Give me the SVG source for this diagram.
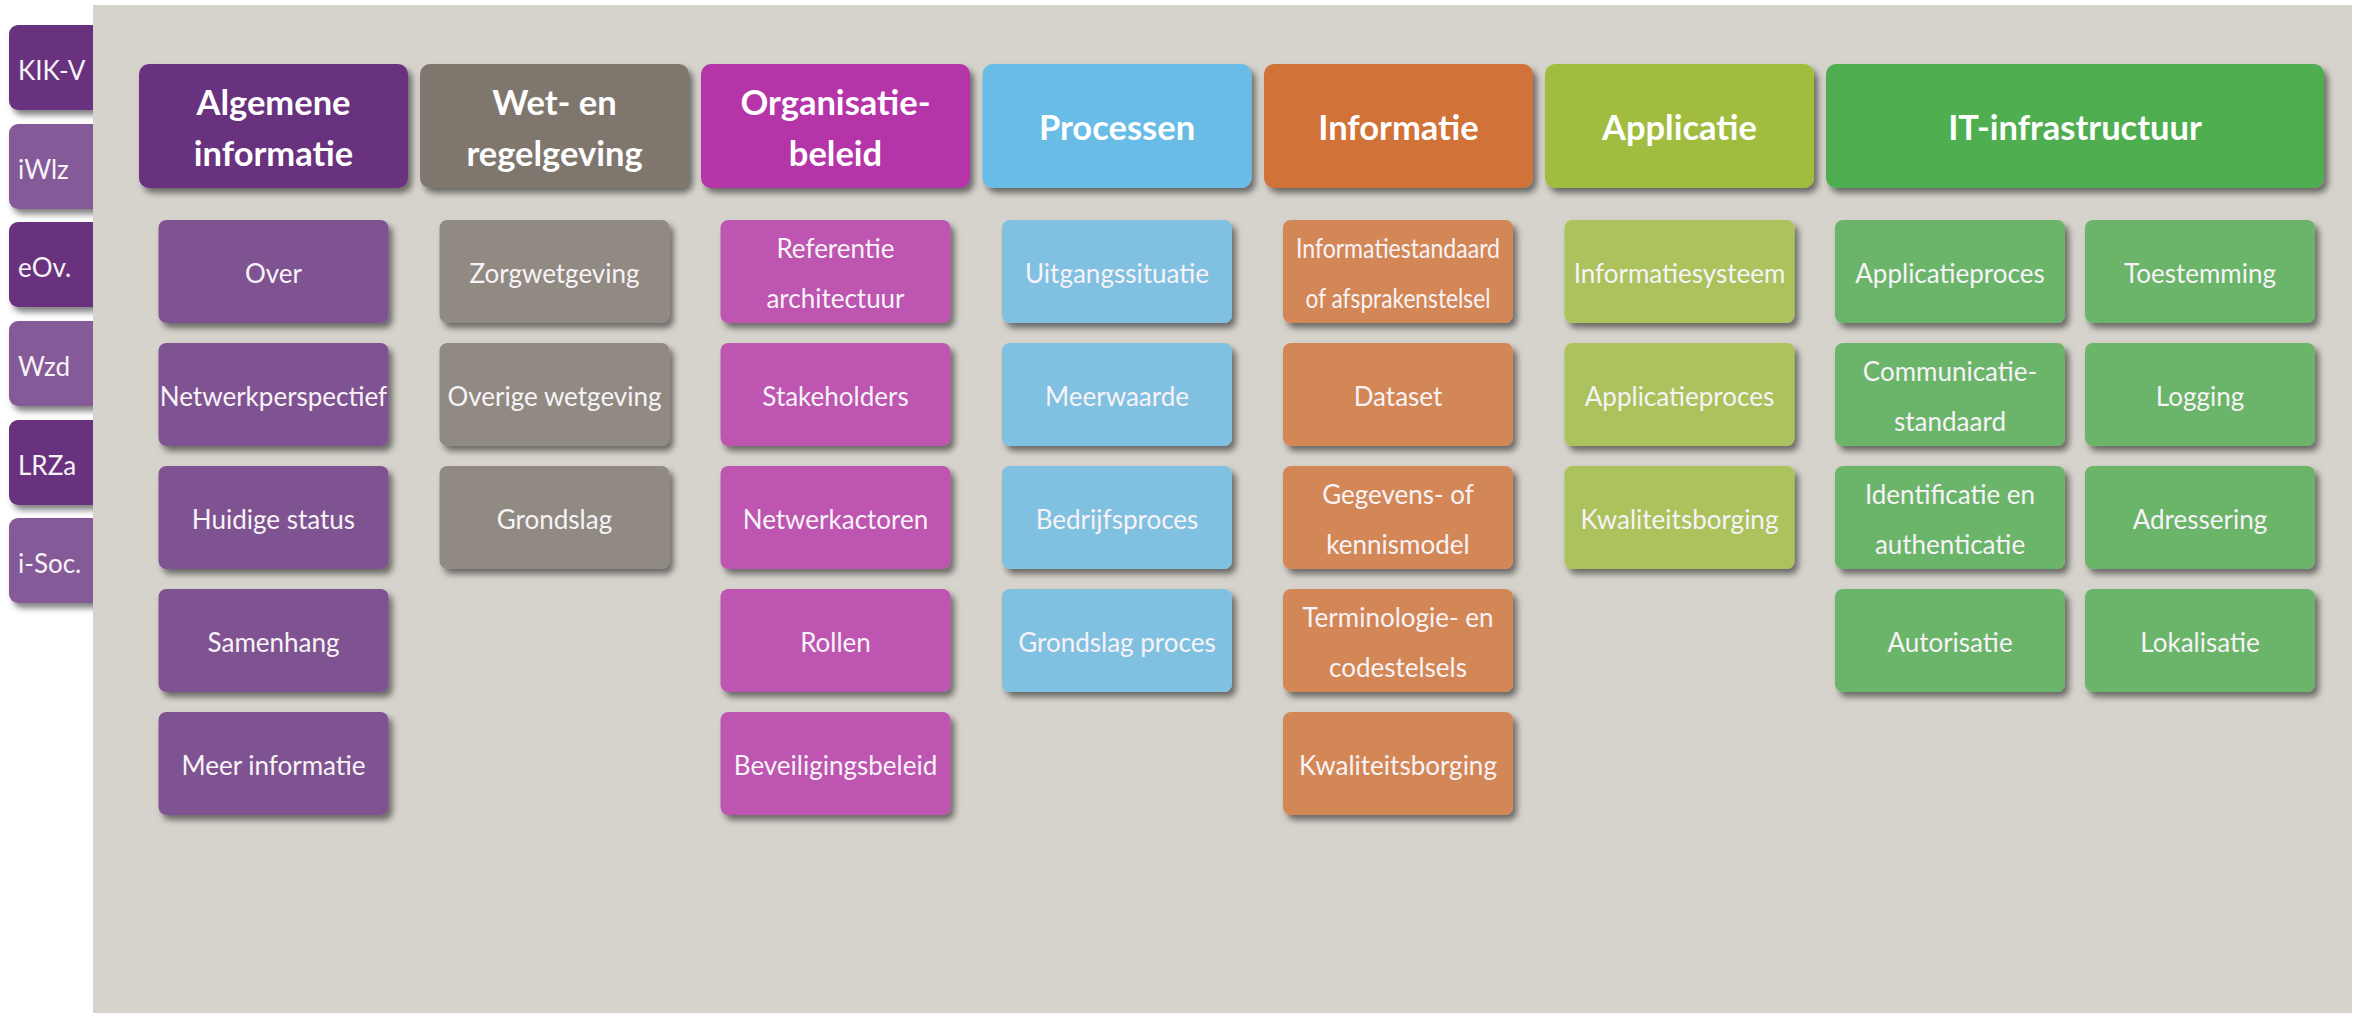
<svg xmlns="http://www.w3.org/2000/svg" width="2359" height="1013" viewBox="0 0 2359 1013">
<defs>
<filter id="sh" x="-10%" y="-10%" width="125%" height="130%">
<feDropShadow dx="4" dy="5" stdDeviation="3" flood-color="#000" flood-opacity="0.5"/>
</filter>
</defs>
<style>
text{font-family:Lato,"Open Sans","Liberation Sans",sans-serif;fill:#fff}
.hd{font-weight:bold;font-size:34.5px;text-anchor:middle}
.sb{font-size:26px;text-anchor:middle;fill:#f7f3f7}
.tb{font-size:26px;fill:#f7f3f7}
.box{filter:url(#sh)}
.dk{fill:#67307f}.lt{fill:#845a98}
.h1{fill:#67317f}.s1{fill:#7f5391}
.h2{fill:#7f776e}.s2{fill:#918a82}
.h3{fill:#b534a8}.s3{fill:#bd55b1}
.h4{fill:#69bce6}.s4{fill:#80c0e1}
.h5{fill:#d17237}.s5{fill:#d48757}
.h6{fill:#a1bd3f}.s6{fill:#abc25d}
.h7{fill:#4fae50}.s7{fill:#6bb56a}
</style>
<rect x="0" y="0" width="2359" height="1013" fill="#fff"/>
<g id="tabs">
<g id="tab-kikv"><rect class="box dk" x="9" y="25" width="100" height="85" rx="9"/><text class="tb" x="18" y="80">KIK-V</text></g>
<g id="tab-iwlz"><rect class="box lt" x="9" y="124" width="100" height="85" rx="9"/><text class="tb" x="18" y="179">iWlz</text></g>
<g id="tab-eov"><rect class="box dk" x="9" y="222" width="100" height="85" rx="9"/><text class="tb" x="18" y="277">eOv.</text></g>
<g id="tab-wzd"><rect class="box lt" x="9" y="321" width="100" height="85" rx="9"/><text class="tb" x="18" y="376">Wzd</text></g>
<g id="tab-lrza"><rect class="box dk" x="9" y="420" width="100" height="85" rx="9"/><text class="tb" x="18" y="475">LRZa</text></g>
<g id="tab-isoc"><rect class="box lt" x="9" y="518" width="100" height="85" rx="9"/><text class="tb" x="18" y="573">i-Soc.</text></g>
</g>
<rect x="93" y="5" width="2259" height="1008" fill="#d6d3cc"/>
<g id="connectors"/>
<g id="col-algemene">
<g id="h-algemene"><rect class="box h1" x="139" y="64" width="269" height="124" rx="10"/><text class="hd" x="273.5" y="115">Algemene</text><text class="hd" x="273.5" y="166">informatie</text></g>
<g id="n-over"><rect class="box s1" x="158.5" y="220" width="230" height="103" rx="8"/><text class="sb" x="273.5" y="283">Over</text></g>
<g id="n-netwerkperspectief"><rect class="box s1" x="158.5" y="343" width="230" height="103" rx="8"/><text class="sb" x="273.5" y="406">Netwerkperspectief</text></g>
<g id="n-huidige"><rect class="box s1" x="158.5" y="466" width="230" height="103" rx="8"/><text class="sb" x="273.5" y="529">Huidige status</text></g>
<g id="n-samenhang"><rect class="box s1" x="158.5" y="589" width="230" height="103" rx="8"/><text class="sb" x="273.5" y="652">Samenhang</text></g>
<g id="n-meer"><rect class="box s1" x="158.5" y="712" width="230" height="103" rx="8"/><text class="sb" x="273.5" y="775">Meer informatie</text></g>
</g>
<g id="col-wet">
<g id="h-wet"><rect class="box h2" x="420" y="64" width="269" height="124" rx="10"/><text class="hd" x="554.5" y="115">Wet- en</text><text class="hd" x="554.5" y="166">regelgeving</text></g>
<g id="n-zorgwet"><rect class="box s2" x="439.5" y="220" width="230" height="103" rx="8"/><text class="sb" x="554.5" y="283">Zorgwetgeving</text></g>
<g id="n-overige"><rect class="box s2" x="439.5" y="343" width="230" height="103" rx="8"/><text class="sb" x="554.5" y="406">Overige wetgeving</text></g>
<g id="n-grondslag"><rect class="box s2" x="439.5" y="466" width="230" height="103" rx="8"/><text class="sb" x="554.5" y="529">Grondslag</text></g>
</g>
<g id="col-organisatie">
<g id="h-organisatie"><rect class="box h3" x="701" y="64" width="269" height="124" rx="10"/><text class="hd" x="835.5" y="115">Organisatie-</text><text class="hd" x="835.5" y="166">beleid</text></g>
<g id="n-referentie"><rect class="box s3" x="720.5" y="220" width="230" height="103" rx="8"/><text class="sb" x="835.5" y="258">Referentie</text><text class="sb" x="835.5" y="308">architectuur</text></g>
<g id="n-stakeholders"><rect class="box s3" x="720.5" y="343" width="230" height="103" rx="8"/><text class="sb" x="835.5" y="406">Stakeholders</text></g>
<g id="n-netwerkactoren"><rect class="box s3" x="720.5" y="466" width="230" height="103" rx="8"/><text class="sb" x="835.5" y="529">Netwerkactoren</text></g>
<g id="n-rollen"><rect class="box s3" x="720.5" y="589" width="230" height="103" rx="8"/><text class="sb" x="835.5" y="652">Rollen</text></g>
<g id="n-beveiliging"><rect class="box s3" x="720.5" y="712" width="230" height="103" rx="8"/><text class="sb" x="835.5" y="775">Beveiligingsbeleid</text></g>
</g>
<g id="col-processen">
<g id="h-processen"><rect class="box h4" x="982.5" y="64" width="269" height="124" rx="10"/><text class="hd" x="1117" y="140">Processen</text></g>
<g id="n-uitgang"><rect class="box s4" x="1002" y="220" width="230" height="103" rx="8"/><text class="sb" x="1117" y="283">Uitgangssituatie</text></g>
<g id="n-meerwaarde"><rect class="box s4" x="1002" y="343" width="230" height="103" rx="8"/><text class="sb" x="1117" y="406">Meerwaarde</text></g>
<g id="n-bedrijfsproces"><rect class="box s4" x="1002" y="466" width="230" height="103" rx="8"/><text class="sb" x="1117" y="529">Bedrijfsproces</text></g>
<g id="n-grondslagproces"><rect class="box s4" x="1002" y="589" width="230" height="103" rx="8"/><text class="sb" x="1117" y="652">Grondslag proces</text></g>
</g>
<g id="col-informatie">
<g id="h-informatie"><rect class="box h5" x="1264" y="64" width="269" height="124" rx="10"/><text class="hd" x="1398.5" y="140">Informatie</text></g>
<g id="n-infostandaard"><rect class="box s5" x="1283" y="220" width="230" height="103" rx="8"/><text class="sb" x="1398" y="258" textLength="204" lengthAdjust="spacingAndGlyphs">Informatiestandaard</text><text class="sb" x="1398" y="308" textLength="185" lengthAdjust="spacingAndGlyphs">of afsprakenstelsel</text></g>
<g id="n-dataset"><rect class="box s5" x="1283" y="343" width="230" height="103" rx="8"/><text class="sb" x="1398" y="406">Dataset</text></g>
<g id="n-gegevens"><rect class="box s5" x="1283" y="466" width="230" height="103" rx="8"/><text class="sb" x="1398" y="504">Gegevens- of</text><text class="sb" x="1398" y="554">kennismodel</text></g>
<g id="n-terminologie"><rect class="box s5" x="1283" y="589" width="230" height="103" rx="8"/><text class="sb" x="1398" y="627">Terminologie- en</text><text class="sb" x="1398" y="677">codestelsels</text></g>
<g id="n-kwal-info"><rect class="box s5" x="1283" y="712" width="230" height="103" rx="8"/><text class="sb" x="1398" y="775">Kwaliteitsborging</text></g>
</g>
<g id="col-applicatie">
<g id="h-applicatie"><rect class="box h6" x="1545" y="64" width="269" height="124" rx="10"/><text class="hd" x="1679.5" y="140">Applicatie</text></g>
<g id="n-infosysteem"><rect class="box s6" x="1564.5" y="220" width="230" height="103" rx="8"/><text class="sb" x="1679.5" y="283">Informatiesysteem</text></g>
<g id="n-appproces"><rect class="box s6" x="1564.5" y="343" width="230" height="103" rx="8"/><text class="sb" x="1679.5" y="406">Applicatieproces</text></g>
<g id="n-kwal-app"><rect class="box s6" x="1564.5" y="466" width="230" height="103" rx="8"/><text class="sb" x="1679.5" y="529">Kwaliteitsborging</text></g>
</g>
<g id="col-it">
<g id="h-it"><rect class="box h7" x="1826" y="64" width="498" height="124" rx="10"/><text class="hd" x="2075" y="140">IT-infrastructuur</text></g>
<g id="n-it-appproces"><rect class="box s7" x="1835" y="220" width="230" height="103" rx="8"/><text class="sb" x="1950" y="283">Applicatieproces</text></g>
<g id="n-communicatie"><rect class="box s7" x="1835" y="343" width="230" height="103" rx="8"/><text class="sb" x="1950" y="381">Communicatie-</text><text class="sb" x="1950" y="431">standaard</text></g>
<g id="n-identificatie"><rect class="box s7" x="1835" y="466" width="230" height="103" rx="8"/><text class="sb" x="1950" y="504">Identificatie en</text><text class="sb" x="1950" y="554">authenticatie</text></g>
<g id="n-autorisatie"><rect class="box s7" x="1835" y="589" width="230" height="103" rx="8"/><text class="sb" x="1950" y="652">Autorisatie</text></g>
<g id="n-toestemming"><rect class="box s7" x="2085" y="220" width="230" height="103" rx="8"/><text class="sb" x="2200" y="283">Toestemming</text></g>
<g id="n-logging"><rect class="box s7" x="2085" y="343" width="230" height="103" rx="8"/><text class="sb" x="2200" y="406">Logging</text></g>
<g id="n-adressering"><rect class="box s7" x="2085" y="466" width="230" height="103" rx="8"/><text class="sb" x="2200" y="529">Adressering</text></g>
<g id="n-lokalisatie"><rect class="box s7" x="2085" y="589" width="230" height="103" rx="8"/><text class="sb" x="2200" y="652">Lokalisatie</text></g>
</g>
</svg>
